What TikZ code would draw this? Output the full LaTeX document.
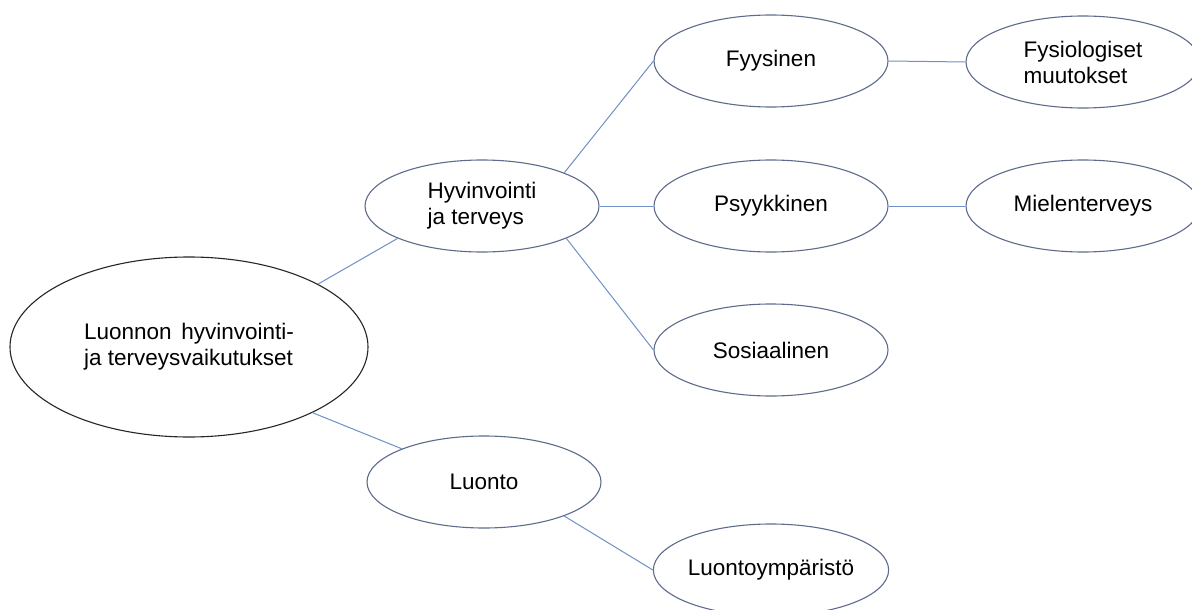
\documentclass[tikz,border=0pt]{standalone}
\usepackage{fontspec}
\setmainfont{Liberation Sans}
\usetikzlibrary{shapes.geometric}
\definecolor{edgeblue}{HTML}{7090C8}
\definecolor{rimgray}{HTML}{5E6C8C}
\begin{document}
\begin{tikzpicture}[x=1pt,y=-1pt,
  oval/.style={ellipse, draw=rimgray, line width=1.1pt, inner sep=0pt,
    minimum width=234pt, minimum height=92pt,
    font=\fontsize{22.5}{26}\selectfont, align=left},
  rootoval/.style={oval, draw=black!85, minimum width=358pt, minimum height=180pt},
  link/.style={draw=edgeblue, line width=1pt}]
\useasboundingbox (0,0) rectangle (1192,610);
\clip (0,0) rectangle (1192,610);
\fill[white] (0,0) rectangle (1192,610);
\node[rootoval] (root) at (189,347) {Luonnon\hspace{0.15em} hyvinvointi-\\ja terveysvaikutukset};
\node[oval] (hyv) at (482,206) {Hyvinvointi\\ja terveys};
\node[oval] (fyy) at (771,61) {Fyysinen};
\node[oval] (psy) at (771,206) {Psyykkinen};
\node[oval] (sos) at (771,350) {Sosiaalinen};
\node[oval] (fys) at (1083,62) {Fysiologiset\\muutokset};
\node[oval] (mie) at (1083,206) {Mielenterveys};
\node[oval] (luo) at (484,482) {Luonto};
\node[oval] (ymp) at (771,570) {Luontoympäristö};
\draw[link] (root.26) -- (hyv.201);
\draw[link] (root.-28) -- (luo.158);
\draw[link] (hyv.22) -- (fyy.west);
\draw[link] (hyv.east) -- (psy.west);
\draw[link] (hyv.-21) -- (sos.west);
\draw[link] (fyy.east) -- (fys.west);
\draw[link] (psy.east) -- (mie.west);
\draw[link] (luo.-23) -- (ymp.west);
\end{tikzpicture}
\end{document}
